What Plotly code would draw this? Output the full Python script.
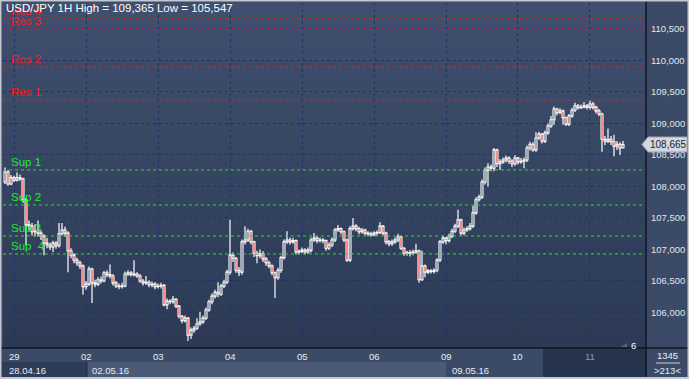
import plotly.graph_objects as go

# ---------------- data (USD/JPY, 1H) ----------------
first_open = 108.07
close = [
    108.23, 108.04, 108.14, 108.10, 108.14, 108.12, 107.79, 107.39, 107.37, 107.28,
    107.29, 107.26, 107.21, 107.10, 107.07, 107.04, 107.10, 107.06, 107.25, 107.31,
    107.26, 106.98, 106.91, 106.83, 106.79, 106.74, 106.41, 106.45, 106.69, 106.47,
    106.45, 106.52, 106.50, 106.63, 106.60, 106.58, 106.47, 106.42, 106.41, 106.42,
    106.61, 106.63, 106.60, 106.61, 106.58, 106.50, 106.47, 106.48, 106.44, 106.45,
    106.41, 106.42, 106.43, 106.12, 106.18, 106.17, 106.21, 106.10, 105.94, 105.87,
    105.91, 105.64, 105.72, 105.75, 105.82, 105.85, 105.91, 106.04, 106.17, 106.26,
    106.32, 106.29, 106.42, 106.48, 106.64, 106.91, 106.86, 106.67, 106.64, 107.12,
    107.15, 107.29, 107.12, 106.94, 106.90, 106.93, 106.85, 106.79, 106.74, 106.63,
    106.55, 106.67, 106.87, 107.12, 107.15, 107.12, 107.14, 106.96, 106.97, 106.99,
    106.96, 106.99, 107.15, 107.18, 107.14, 107.15, 107.14, 107.02, 107.07, 107.15,
    107.31, 107.33, 107.28, 107.15, 106.83, 107.33, 107.37, 107.33, 107.28, 107.31,
    107.26, 107.25, 107.23, 107.26, 107.27, 107.37, 107.26, 107.12, 107.09, 107.12,
    107.15, 107.20, 107.02, 106.94, 106.95, 106.94, 106.96, 106.98, 106.52, 106.74,
    106.64, 106.66, 106.65, 106.67, 106.83, 107.12, 107.18, 107.14, 107.21, 107.29,
    107.37, 107.47, 107.26, 107.31, 107.33, 107.37, 107.58, 107.79, 107.83, 108.07,
    108.26, 108.31, 108.29, 108.58, 108.36, 108.39, 108.42, 108.45, 108.40, 108.36,
    108.45, 108.39, 108.40, 108.42, 108.61, 108.67, 108.58, 108.77, 108.83, 108.72,
    108.85, 108.96, 109.06, 109.23, 109.17, 109.20, 109.09, 108.99, 109.12, 109.21,
    109.28, 109.25, 109.26, 109.28, 109.26, 109.31, 109.26, 109.20, 109.15, 108.75,
    108.72, 108.75, 108.71, 108.64, 108.67, 108.61, 108.665,
]
high = [
    108.30, 108.26, 108.18, 108.17, 108.22, 108.19, 108.14, 107.82, 107.46, 107.42,
    107.40, 107.46, 107.30, 107.24, 107.18, 107.11, 107.14, 107.13, 107.42, 107.42,
    107.36, 107.29, 107.02, 106.94, 106.87, 106.82, 106.76, 106.50, 106.73, 106.71,
    106.52, 106.56, 106.57, 106.66, 106.67, 106.76, 106.61, 106.50, 106.46, 106.47,
    106.65, 106.67, 106.66, 106.83, 106.64, 106.61, 106.53, 106.58, 106.51, 106.49,
    106.48, 106.46, 106.47, 106.45, 106.22, 106.21, 106.26, 106.23, 106.12, 105.96,
    105.95, 105.93, 105.76, 105.79, 105.91, 106.01, 105.95, 106.08, 106.20, 106.30,
    106.36, 106.48, 106.45, 106.52, 106.68, 107.47, 106.95, 106.88, 106.72, 107.16,
    107.37, 107.33, 107.31, 107.14, 106.98, 107.00, 106.97, 106.88, 106.82, 106.76,
    106.65, 106.71, 106.90, 107.16, 107.29, 107.19, 107.18, 107.16, 107.00, 107.03,
    107.02, 107.03, 107.19, 107.26, 107.21, 107.19, 107.18, 107.16, 107.11, 107.19,
    107.34, 107.39, 107.35, 107.30, 107.17, 107.37, 107.50, 107.40, 107.36, 107.34,
    107.33, 107.29, 107.28, 107.29, 107.30, 107.43, 107.39, 107.28, 107.15, 107.16,
    107.19, 107.25, 107.22, 107.04, 106.98, 106.99, 107.00, 107.09, 107.00, 106.98,
    106.76, 106.69, 106.69, 106.70, 106.86, 107.15, 107.22, 107.20, 107.25, 107.33,
    107.41, 107.63, 107.49, 107.35, 107.37, 107.42, 107.69, 107.83, 107.87, 108.11,
    108.30, 108.37, 108.35, 108.61, 108.60, 108.43, 108.46, 108.49, 108.48, 108.43,
    108.50, 108.47, 108.45, 108.46, 108.65, 108.71, 108.70, 108.86, 108.87, 108.85,
    108.89, 109.00, 109.12, 109.27, 109.25, 109.24, 109.22, 109.11, 109.15, 109.25,
    109.33, 109.31, 109.30, 109.34, 109.31, 109.365, 109.34, 109.28, 109.23, 109.17,
    108.80, 108.92, 108.80, 108.82, 108.72, 108.70, 108.72,
]
low = [
    108.04, 108.01, 108.02, 108.07, 108.08, 108.09, 107.74, 107.07, 107.30, 107.22,
    107.20, 107.20, 107.15, 106.91, 107.02, 106.99, 106.96, 107.01, 107.03, 107.22,
    107.20, 106.64, 106.86, 106.78, 106.74, 106.69, 106.28, 106.36, 106.42, 106.15,
    106.40, 106.42, 106.46, 106.48, 106.56, 106.54, 106.43, 106.39, 106.37, 106.38,
    106.40, 106.58, 106.57, 106.57, 106.55, 106.47, 106.43, 106.44, 106.40, 106.40,
    106.37, 106.38, 106.38, 106.10, 106.05, 106.13, 106.14, 106.07, 105.91, 105.83,
    105.84, 105.547, 105.58, 105.68, 105.72, 105.79, 105.82, 105.88, 106.01, 106.13,
    106.22, 106.24, 106.26, 106.39, 106.45, 106.60, 106.80, 106.63, 106.58, 106.60,
    107.08, 107.12, 107.08, 106.88, 106.78, 106.86, 106.80, 106.74, 106.70, 106.59,
    106.23, 106.52, 106.63, 106.84, 107.09, 107.08, 107.09, 106.92, 106.92, 106.94,
    106.92, 106.93, 106.95, 107.12, 107.10, 107.11, 107.10, 106.98, 106.99, 107.04,
    107.12, 107.28, 107.24, 107.12, 106.80, 106.80, 107.30, 107.29, 107.24, 107.25,
    107.23, 107.21, 107.20, 107.21, 107.22, 107.24, 107.23, 107.08, 107.05, 107.06,
    107.09, 107.12, 106.99, 106.90, 106.90, 106.89, 106.91, 106.93, 106.47, 106.50,
    106.56, 106.61, 106.62, 106.62, 106.64, 106.80, 107.09, 107.08, 107.11, 107.18,
    107.26, 107.34, 107.22, 107.22, 107.28, 107.30, 107.34, 107.55, 107.76, 107.80,
    108.03, 108.00, 108.24, 108.24, 108.31, 108.26, 108.36, 108.38, 108.36, 108.31,
    108.33, 108.35, 108.36, 108.29, 108.39, 108.57, 108.55, 108.55, 108.74, 108.68,
    108.69, 108.82, 108.93, 108.98, 109.13, 109.15, 108.98, 108.96, 108.96, 109.09,
    109.18, 109.22, 109.23, 109.24, 109.22, 109.22, 109.22, 109.16, 109.12, 108.55,
    108.66, 108.69, 108.66, 108.48, 108.58, 108.50, 108.62,
]
open_ = [first_open] + close[:-1]

day_labels = ["29", "02", "03", "04", "05", "06", "09", "10", "11"]
day_start_idx = [3, 27, 51, 75, 99, 123, 147, 171, 195]
week_labels = ["28.04.16", "02.05.16", "09.05.16"]
week_start_idx = [-0.67, 27, 147]

res_names = ["Res 1", "Res 2", "Res 3", "Res 4"]
res_levels = [109.373, 109.897, 110.50, 110.66]
sup_names = ["Sup 1", "Sup 2", "Sup 3", "Sup  4"]
sup_levels = [108.262, 107.706, 107.214, 106.929]

y_ticks = [106.0, 106.5, 107.0, 107.5, 108.0, 108.5, 109.0, 109.5, 110.0, 110.5]
y_ticktext = ["106,000", "106,500", "107,000", "107,500", "108,000",
              "108,500", "109,000", "109,500", "110,000", "110,500"]

title_text = "USD/JPY 1H High = 109,365 Low = 105,547"
last_price_text = "108,665"
last_price = 108.665
bars_total = "1345"
bars_visible = ">213<"

# ---------------- geometry helpers (pixel -> paper) ----------------
W, H = 689, 379
L, R, T, B = 3, 43, 3, 31
PW, PH = W - L - R, H - T - B


def xp(px):
    return (px - L) / PW


def yp(py):
    return (H - B - py) / PH


x_idx = list(range(len(close)))
FONT = "Liberation Sans, Arial, sans-serif"

# wick segments (from the OHLC lists) and candle bodies
wx, wy = [], []
for i, (o, h, lo, c) in enumerate(zip(open_, high, low, close)):
    top, bot = max(o, c), min(o, c)
    wx += [i, i, None, i, i, None]
    wy += [h, top, None, bot, lo, None]

body_base = [min(o, c) for o, c in zip(open_, close)]
body_len = [max(abs(c - o), 0.004) for o, c in zip(open_, close)]
body_fill = ["#ff0000" if c < o else "rgba(0,0,0,0)" for o, c in zip(open_, close)]

fig = go.Figure()
fig.add_trace(go.Scatter(x=wx, y=wy, mode="lines", line=dict(color="#ffffff", width=1.2),
                         hoverinfo="skip", showlegend=False))
fig.add_trace(go.Bar(x=x_idx, y=body_len, base=body_base, width=0.67,
                     marker=dict(color=body_fill, line=dict(color="#ffffff", width=1.1)),
                     hoverinfo="skip", showlegend=False))

shapes = []
# gradient plot background
top_c = (64, 80, 110)
bot_c = (44, 58, 86)
n = 24
for k in range(n):
    c = tuple(int(top_c[j] + (bot_c[j] - top_c[j]) * (k + 0.5) / n) for j in range(3))
    shapes.append(dict(type="rect", xref="paper", yref="paper", x0=0, x1=1,
                       y0=1 - (k + 1) / n, y1=1 - k / n + 0.002, layer="below",
                       line=dict(width=0), fillcolor="rgb(%d,%d,%d)" % c))

# resistance / support lines
for lv in res_levels:
    shapes.append(dict(type="line", xref="paper", yref="y", x0=0, x1=1, y0=lv, y1=lv,
                       line=dict(color="#ff1010", width=1, dash="3px,3px")))
for lv in sup_levels:
    shapes.append(dict(type="line", xref="paper", yref="y", x0=0, x1=1, y0=lv, y1=lv,
                       line=dict(color="#10f010", width=1, dash="3px,3px")))

# bottom band backgrounds
band_top, band_mid, band_bot = yp(348), yp(362), yp(377)
shapes += [
    dict(type="rect", xref="paper", yref="paper", x0=xp(0), x1=xp(646), y0=band_mid, y1=band_top,
         line=dict(width=0), fillcolor="#3b4a66"),
    dict(type="rect", xref="paper", yref="paper", x0=xp(0), x1=xp(87), y0=band_bot, y1=band_mid,
         line=dict(width=0), fillcolor="#2f3c58"),
    dict(type="rect", xref="paper", yref="paper", x0=xp(87), x1=xp(446), y0=band_bot, y1=band_mid,
         line=dict(width=0), fillcolor="#4b5a77"),
    dict(type="rect", xref="paper", yref="paper", x0=xp(446), x1=xp(646), y0=band_bot, y1=band_mid,
         line=dict(width=0), fillcolor="#3b4a66"),
    dict(type="rect", xref="paper", yref="paper", x0=xp(543), x1=xp(646), y0=band_bot, y1=band_top,
         line=dict(width=0), fillcolor="#27344e"),
    dict(type="line", xref="paper", yref="paper", x0=xp(87), x1=xp(87), y0=band_bot, y1=band_mid,
         line=dict(color="#1f2b44", width=1)),
    # right bottom box
    dict(type="rect", xref="paper", yref="paper", x0=xp(646), x1=xp(689), y0=band_bot, y1=band_top,
         line=dict(width=0), fillcolor="#3b4a66"),
    dict(type="line", xref="paper", yref="paper", x0=xp(656), x1=xp(680), y0=yp(363), y1=yp(363),
         line=dict(color="#c8cfdb", width=1)),
    # frame lines
    dict(type="line", xref="paper", yref="paper", x0=xp(646), x1=xp(646), y0=yp(0), y1=yp(377),
         line=dict(color="#101520", width=1.5)),
    dict(type="line", xref="paper", yref="paper", x0=xp(0), x1=xp(689), y0=yp(348), y1=yp(348),
         line=dict(color="#101520", width=1.5)),
    # outer light border
    dict(type="rect", xref="paper", yref="paper", x0=xp(0.5), x1=xp(688.5), y0=yp(378), y1=yp(0.5),
         line=dict(color="#c4c8d0", width=2), fillcolor="rgba(0,0,0,0)"),
    # last-price marker
    dict(type="path", xref="paper", yref="paper",
         path="M %f,%f L %f,%f L %f,%f L %f,%f L %f,%f Z" % (
             xp(642), yp(144.5), xp(648), yp(137), xp(687), yp(137), xp(687), yp(152), xp(648), yp(152)),
         line=dict(color="#9aa3b2", width=1), fillcolor="#d3d7de"),
    # small marker near "6"
    dict(type="path", xref="paper", yref="paper",
         path="M %f,%f L %f,%f L %f,%f Z" % (xp(621), yp(347), xp(627), yp(343), xp(627), yp(347)),
         line=dict(width=0), fillcolor="#5a6680"),
]

ann = []
for nm, lv in zip(res_names, res_levels):
    ann.append(dict(text=nm, x=xp(9), y=lv, xref="paper", yref="y", xanchor="left",
                    yanchor="bottom", yshift=0, showarrow=False,
                    font=dict(family=FONT, size=11.5, color="#ff1a1a")))
for nm, lv in zip(sup_names, sup_levels):
    ann.append(dict(text=nm, x=xp(9), y=lv, xref="paper", yref="y", xanchor="left",
                    yanchor="bottom", yshift=0, showarrow=False,
                    font=dict(family=FONT, size=11.5, color="#22ee22")))
ann.append(dict(text=title_text, x=xp(4), y=yp(8), xref="paper", yref="paper",
                xanchor="left", yanchor="middle", showarrow=False,
                font=dict(family=FONT, size=11.5, color="#ffffff")))

for lab, idx in zip(day_labels, day_start_idx):
    col = "#8d98ab" if lab == "11" else "#e8edf5"
    ann.append(dict(text=lab, x=idx, y=yp(356), xref="x", yref="paper", xanchor="center",
                    yanchor="middle", showarrow=False,
                    font=dict(family=FONT, size=9.5, color=col)))
for lab, idx in zip(week_labels, week_start_idx):
    ann.append(dict(text=lab, x=idx, y=yp(370), xref="x", yref="paper", xanchor="left",
                    xshift=4, yanchor="middle", showarrow=False,
                    font=dict(family=FONT, size=9.5, color="#e8edf5")))
ann.append(dict(text="6", x=xp(633), y=yp(345), xref="paper", yref="paper", xanchor="center",
                yanchor="middle", showarrow=False, font=dict(family=FONT, size=9.5, color="#ffffff")))
ann.append(dict(text=bars_total, x=xp(667), y=yp(355), xref="paper", yref="paper", xanchor="center",
                yanchor="middle", showarrow=False, font=dict(family=FONT, size=9.5, color="#e8edf5")))
ann.append(dict(text=bars_visible, x=xp(667), y=yp(370), xref="paper", yref="paper", xanchor="center",
                yanchor="middle", showarrow=False, font=dict(family=FONT, size=9.5, color="#e8edf5")))
ann.append(dict(text=last_price_text, x=xp(668), y=last_price, xref="paper", yref="y",
                xanchor="center", yanchor="middle", showarrow=False,
                font=dict(family=FONT, size=10, color="#1a1f2a")))

fig.update_layout(
    width=W, height=H, margin=dict(l=L, r=R, t=T, b=B, pad=0),
    paper_bgcolor="#3b4a67", plot_bgcolor="rgba(0,0,0,0)",
    separators=",.", barmode="overlay",
    shapes=shapes, annotations=ann, showlegend=False,
    xaxis=dict(range=[-0.67, 213.67], tickvals=day_start_idx, showticklabels=False,
               ticks="", showgrid=True, gridcolor="#1d3566", griddash="3px,3px", gridwidth=1,
               zeroline=False, showline=False, fixedrange=True),
    yaxis=dict(range=[105.436, 110.912], side="right", tickvals=y_ticks, ticktext=y_ticktext,
               ticks="", showgrid=True, gridcolor="#1d3566", griddash="3px,3px", gridwidth=1,
               zeroline=False, showline=False, ticklabelstandoff=4,
               tickfont=dict(family=FONT, size=9.5, color="#dfe6f0"), fixedrange=True),
)

fig.write_html("out.html", config={"displayModeBar": False},
               post_script="document.body.style.margin='0';document.body.style.overflow='hidden';")
